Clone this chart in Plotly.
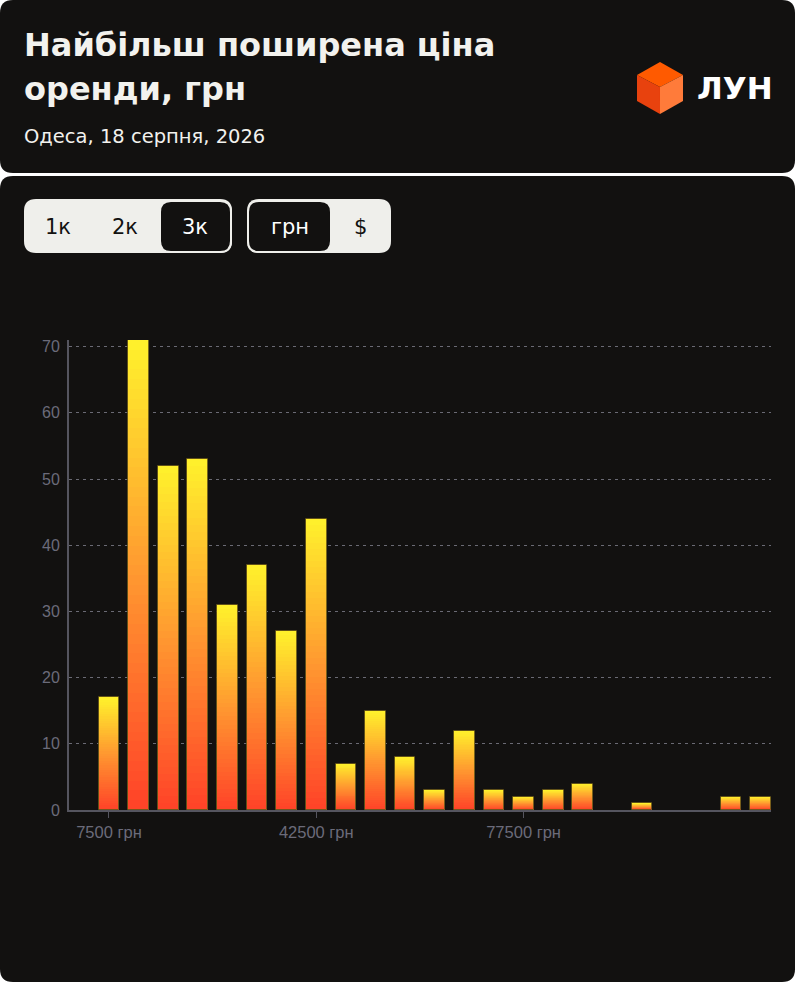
import plotly.graph_objects as go

# --- data ---
prices = [7500, 12500, 17500, 22500, 27500, 32500, 37500, 42500, 47500, 52500,
          57500, 62500, 67500, 72500, 77500, 82500, 87500, 92500, 97500, 102500,
          107500, 112500, 117500]
counts = [17, 71, 52, 53, 31, 37, 27, 44, 7, 15,
          8, 3, 12, 3, 2, 3, 4, 0, 1, 0,
          0, 2, 2]
x_tickvals = [7500, 42500, 77500]
x_ticktext = ["7500 грн", "42500 грн", "77500 грн"]
y_tickvals = [0, 10, 20, 30, 40, 50, 60, 70]

title_lines = ["Найбільш поширена ціна", "оренди, грн"]
subtitle = "Одеса, 18 серпня, 2026"
rooms = ["1к", "2к", "3к"]
currencies = ["грн", "$"]
brand = "ЛУН"

BG = "#121110"
LIGHT = "#efefeb"
HEAD_FONT = "DejaVu Sans"

# page geometry (pixels), plot area placed with margins
W, H = 795, 984
L, R, T, B = 69, 24, 340, 174
PW, PH = W - L - R, H - T - B


def px(x):
    return (x - L) / PW


def py(y):
    return (H - B - y) / PH


def rrect(x0, y0, x1, y1, r):
    # rounded rectangle path in paper coords from pixel box
    rx, ry = r / PW, r / PH
    a, b, c, d = px(x0), px(x1), py(y0), py(y1)  # c top, d bottom
    return (f"M{a+rx:.5f},{c:.5f} L{b-rx:.5f},{c:.5f} Q{b:.5f},{c:.5f} {b:.5f},{c-ry:.5f} "
            f"L{b:.5f},{d+ry:.5f} Q{b:.5f},{d:.5f} {b-rx:.5f},{d:.5f} L{a+rx:.5f},{d:.5f} "
            f"Q{a:.5f},{d:.5f} {a:.5f},{d+ry:.5f} L{a:.5f},{c-ry:.5f} Q{a:.5f},{c:.5f} {a+rx:.5f},{c:.5f} Z")


def mix(c1, c2, t):
    return tuple(round(c1[i] + (c2[i] - c1[i]) * t) for i in range(3))


stops = [(0.0, (255, 66, 40)), (0.5, (255, 152, 48)), (1.0, (255, 242, 44))]


def grad(f):
    for (p0, c0), (p1, c1) in zip(stops, stops[1:]):
        if f <= p1:
            r, g, b = mix(c0, c1, (f - p0) / (p1 - p0))
            return f"rgb({r},{g},{b})"
    return "rgb(255,242,44)"


fig = go.Figure()

# gradient bars: overlaid, each slice goes from the base up to a fraction of the value
K = 48
for i in range(K):
    f = 1 - i / K
    fig.add_trace(go.Bar(
        x=prices, y=[v * f for v in counts], width=3500,
        marker=dict(color=grad(f - 0.5 / K), line=dict(width=0)),
        hoverinfo="skip", showlegend=False,
    ))
fig.add_trace(go.Bar(
    x=prices, y=counts, width=3500,
    marker=dict(color="rgba(0,0,0,0)",
                line=dict(color="rgba(105,88,24,0.9)", width=[1 if v else 0 for v in counts])),
    showlegend=False,
))

shapes = [
    dict(type="path", path=rrect(0, 0, 795, 173, 13), fillcolor=BG, line=dict(width=0), layer="below"),
    dict(type="path", path=rrect(0, 176, 795, 982, 13), fillcolor=BG, line=dict(width=0), layer="below"),
    # segmented controls
    dict(type="path", path=rrect(24, 199, 232, 253, 12), fillcolor=LIGHT, line=dict(width=0), layer="below"),
    dict(type="path", path=rrect(160, 201, 231, 252, 11), fillcolor=BG, line=dict(color=LIGHT, width=2), layer="below"),
    dict(type="path", path=rrect(247, 199, 391, 253, 12), fillcolor=LIGHT, line=dict(width=0), layer="below"),
    dict(type="path", path=rrect(248, 201, 331, 252, 11), fillcolor=BG, line=dict(color=LIGHT, width=2), layer="below"),
]

# logo cube
cx, top, bot, lx, rx_, ym1, ym2, cy = 660, 62, 114, 637, 683, 75, 101, 87
faces = [
    ([(cx, top), (rx_, ym1), (cx, cy), (lx, ym1)], "#ff5a00"),
    ([(lx, ym1), (cx, cy), (cx, bot), (lx, ym2)], "#e8420e"),
    ([(cx, cy), (rx_, ym1), (rx_, ym2), (cx, bot)], "#ff7b3a"),
]
for pts, col in faces:
    p = "M" + " L".join(f"{px(a):.5f},{py(b):.5f}" for a, b in pts) + " Z"
    shapes.append(dict(type="path", path=p, fillcolor=col, line=dict(width=0)))
for s in shapes:
    s.update(xref="paper", yref="paper")

ann = []
for k, line in enumerate(title_lines):
    ann.append(dict(x=px(22), y=py(45 + k * 44), text=line, xanchor="left", yanchor="middle",
                    font=dict(family=HEAD_FONT, size=32, color="#f2f2ee", weight=700)))
ann.append(dict(x=px(22), y=py(136), text=subtitle, xanchor="left", yanchor="middle",
                font=dict(family=HEAD_FONT, size=19.5, color="#f2f2ee")))
ann.append(dict(x=px(695), y=py(88), text=brand, xanchor="left", yanchor="middle",
                font=dict(family=HEAD_FONT, size=31, color="#ffffff", weight=700)))
for label, xc in zip(rooms, [58, 125, 195]):
    ann.append(dict(x=px(xc), y=py(227), text=label, xanchor="center", yanchor="middle",
                    font=dict(family=HEAD_FONT, size=21,
                              color="#ffffff" if label == "3к" else BG)))
for label, xc in zip(currencies, [290, 360]):
    ann.append(dict(x=px(xc), y=py(227), text=label, xanchor="center", yanchor="middle",
                    font=dict(family=HEAD_FONT, size=21,
                              color="#ffffff" if label == "грн" else BG)))
for a in ann:
    a.update(xref="paper", yref="paper", showarrow=False)

fig.update_layout(
    width=W, height=H,
    margin=dict(l=L, r=R, t=T, b=B, pad=0),
    paper_bgcolor="#ffffff",
    plot_bgcolor="rgba(0,0,0,0)",
    barmode="overlay",
    bargap=0,
    shapes=shapes,
    annotations=ann,
    font=dict(family="Liberation Sans, Arial", size=16, color="#6b6b7a"),
    xaxis=dict(
        range=[754, 119271], tickvals=x_tickvals, ticktext=x_ticktext,
        showgrid=False, zeroline=False, showline=True, linecolor="#55555f", linewidth=2,
        ticks="outside", ticklen=6, tickcolor="#55555f", tickwidth=1,
        tickfont=dict(color="#6b6b7a", size=16.5),
    ),
    yaxis=dict(
        range=[0, 71], tickvals=y_tickvals,
        showgrid=True, gridcolor="#6a6a74", griddash="3px,4px", gridwidth=1,
        zeroline=False, showline=True, linecolor="#55555f", linewidth=2,
        ticks="", tickfont=dict(color="#6b6b7a", size=16), ticklabelstandoff=4,
    ),
)

fig.write_html("out.html", config={"displayModeBar": False},
               post_script="document.body.style.margin='0';")
